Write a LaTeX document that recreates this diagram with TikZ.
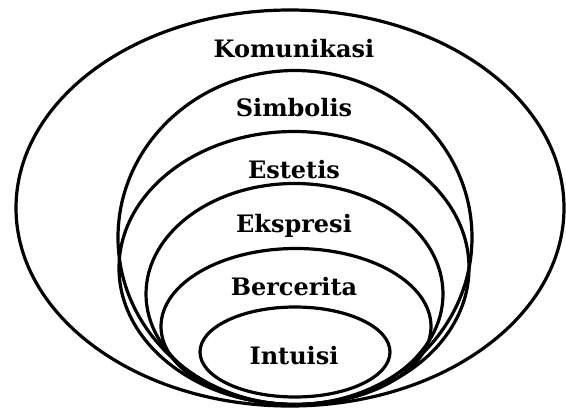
\documentclass[tikz,border=0pt]{standalone}
\usepackage{fontspec}
\setmainfont{DejaVu Serif}
\usepackage{tikz}

\begin{document}
\begin{tikzpicture}[x=1pt,y=-1pt,
  ring/.style={line width=3.2pt},
  lbl/.style={anchor=base,inner sep=0pt,font=\fontsize{24}{28}\selectfont\bfseries}]
  \useasboundingbox (0,0) rectangle (566,410);
  % nested rings, all touching at the bottom
  \draw[ring] (290,208) ellipse [x radius=274,y radius=198];
  \draw[ring] (295,237.5) ellipse [x radius=177,y radius=167];
  \draw[ring] (294,268) ellipse [x radius=175,y radius=136.5];
  \draw[ring] (294.5,294) ellipse [x radius=148.5,y radius=110.5];
  \draw[ring] (296,326.5) ellipse [x radius=135,y radius=78];
  \draw[ring] (295,352) ellipse [x radius=95,y radius=45];
  % labels
  \node[lbl] (komunikasi) at (294,57) {Komunikasi};
  \node[lbl] (simbolis) at (294,116) {Simbolis};
  \node[lbl] (estetis) at (294,178) {Estetis};
  \node[lbl] (ekspresi) at (294,232) {Ekspresi};
  \node[lbl] (bercerita) at (294,295) {Bercerita};
  \node[lbl] (intuisi) at (294,364) {Intuisi};
\end{tikzpicture}
\end{document}
